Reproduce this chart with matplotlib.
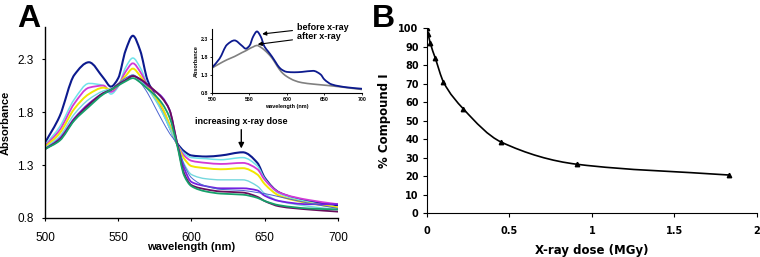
import numpy as np
import matplotlib
matplotlib.use("Agg")
import matplotlib.pyplot as plt
from matplotlib.path import Path
from matplotlib.patches import PathPatch

plt.rcParams['font.family'] = ['Liberation Sans', 'DejaVu Sans']

# -------------------------------------------
# Data
# -------------------------------------------
wl = [500, 510, 520, 530, 540, 545, 550, 555, 560, 565, 570, 575, 580,
      585, 590, 595, 600, 610, 620, 635, 645, 650, 660, 680, 700]

spectra = [
    [1.51, 1.76, 2.15, 2.27, 2.12, 2.04, 2.12, 2.38, 2.52, 2.38, 2.10, 1.96, 1.82,
     1.66, 1.51, 1.43, 1.39, 1.38, 1.39, 1.42, 1.32, 1.18, 1.04, 0.96, 0.92],
    [1.49, 1.66, 1.92, 2.07, 2.05, 1.97, 2.04, 2.22, 2.31, 2.22, 2.06, 1.94, 1.80,
     1.65, 1.50, 1.41, 1.37, 1.36, 1.35, 1.37, 1.29, 1.17, 1.03, 0.95, 0.90],
    [1.48, 1.63, 1.88, 2.03, 2.05, 1.99, 2.05, 2.18, 2.26, 2.18, 2.05, 1.96, 1.84,
     1.68, 1.50, 1.39, 1.34, 1.32, 1.31, 1.32, 1.26, 1.16, 1.04, 0.97, 0.93],
    [1.47, 1.60, 1.83, 1.97, 2.03, 2.01, 2.06, 2.14, 2.21, 2.14, 2.04, 1.95, 1.84,
     1.68, 1.50, 1.36, 1.29, 1.27, 1.26, 1.27, 1.21, 1.12, 1.01, 0.94, 0.90],
    [1.46, 1.57, 1.78, 1.92, 2.00, 2.02, 2.06, 2.11, 2.15, 2.10, 2.02, 1.92, 1.80,
     1.66, 1.50, 1.31, 1.21, 1.17, 1.16, 1.16, 1.10, 1.03, 0.96, 0.91, 0.88],
    [1.45, 1.55, 1.74, 1.88, 1.98, 2.01, 2.06, 2.10, 2.14, 2.11, 2.05, 2.00, 1.94,
     1.82, 1.52, 1.27, 1.14, 1.10, 1.08, 1.08, 1.06, 1.01, 0.96, 0.93, 0.93],
    [1.45, 1.54, 1.72, 1.86, 1.97, 2.00, 2.07, 2.12, 2.15, 2.08, 1.98, 1.85, 1.72,
     1.60, 1.50, 1.30, 1.18, 1.10, 1.07, 1.06, 1.04, 1.03, 1.00, 0.94, 0.89],
    [1.45, 1.54, 1.73, 1.87, 1.98, 2.01, 2.06, 2.10, 2.14, 2.11, 2.06, 2.00, 1.93,
     1.82, 1.52, 1.22, 1.11, 1.07, 1.05, 1.04, 1.00, 0.96, 0.91, 0.88, 0.86],
    [1.45, 1.53, 1.72, 1.85, 1.97, 2.01, 2.05, 2.09, 2.12, 2.08, 2.02, 1.96, 1.88,
     1.75, 1.50, 1.20, 1.10, 1.05, 1.03, 1.02, 0.99, 0.96, 0.92, 0.89, 0.88],
]
spec_colors = ['#0c1a8e', '#6fe3ea', '#d23ad6', '#f2e600', '#74d8de',
               '#7420e0', '#4a63d0', '#6a0c5c', '#16a06a']
spec_widths = [1.5, 1.1, 1.3, 1.4, 1.0, 1.3, 0.7, 1.3, 1.3]

after_xray = [1.50, 1.62, 1.73, 1.82, 1.93, 1.98, 2.04, 2.09, 2.13, 2.08, 2.00, 1.90, 1.78,
              1.62, 1.46, 1.34, 1.26, 1.15, 1.09, 1.05, 1.03, 1.02, 1.00, 0.95, 0.90]

dose = [0, 0.007, 0.02, 0.05, 0.1, 0.22, 0.45, 0.91, 1.83]
compound_I = [100, 97, 92, 84, 71, 56.5, 38.5, 26.5, 20.7]


def smooth_path(x, y):
    # monotone cubic (Fritsch-Carlson) through the points, as Bezier segments
    x = np.asarray(x, float)
    y = np.asarray(y, float)
    h = np.diff(x)
    d = np.diff(y) / h
    m = np.zeros_like(y)
    m[0], m[-1] = d[0], d[-1]
    for i in range(1, len(y) - 1):
        if d[i - 1] * d[i] > 0:
            w1 = 2 * h[i] + h[i - 1]
            w2 = h[i] + 2 * h[i - 1]
            m[i] = (w1 + w2) / (w1 / d[i - 1] + w2 / d[i])
    verts = [(x[0], y[0])]
    codes = [Path.MOVETO]
    for i in range(len(x) - 1):
        verts += [(x[i] + h[i] / 3, y[i] + m[i] * h[i] / 3),
                  (x[i + 1] - h[i] / 3, y[i + 1] - m[i + 1] * h[i] / 3),
                  (x[i + 1], y[i + 1])]
        codes += [Path.CURVE4] * 3
    return Path(verts, codes)


def draw_smooth(ax, x, y, **kw):
    ax.add_patch(PathPatch(smooth_path(x, y), fill=False, capstyle='round', **kw))


fig = plt.figure(figsize=(7.6, 2.57), dpi=100)

# -------------------------------------------
# Panel A
# -------------------------------------------
axA = fig.add_axes([0.0592, 0.1518, 0.3855, 0.742])
for vals, c, lw in zip(spectra, spec_colors, spec_widths):
    draw_smooth(axA, wl, vals, edgecolor=c, lw=lw)
axA.set_xlim(500, 700)
axA.set_ylim(0.8, 2.6)
axA.set_xticks([500, 550, 600, 650, 700])
axA.set_yticks([0.8, 1.3, 1.8, 2.3])
axA.set_yticklabels(['0.8', '1.3', '1.8', '2.3'])
axA.tick_params(labelsize=8.5, length=2, width=0.8)
axA.tick_params(axis='x', pad=8)
axA.tick_params(axis='y', pad=6)
for s in ['top', 'right']:
    axA.spines[s].set_visible(False)
for s in ['left', 'bottom']:
    axA.spines[s].set_linewidth(1.0)
axA.set_xlabel('wavelength (nm)', fontsize=8, fontweight='bold', labelpad=-1)
axA.set_ylabel('Absorbance', fontsize=8, fontweight='bold', labelpad=5)
axA.annotate('', xy=(634, 1.43), xytext=(634, 1.66),
             arrowprops=dict(arrowstyle='-|>', color='black', lw=1.0,
                             mutation_scale=8))
axA.text(634, 1.67, 'increasing x-ray dose', ha='center', va='bottom',
         fontsize=6.5, fontweight='bold')

fig.text(0.022, 0.985, 'A', fontsize=23, fontweight='bold', va='top')

# inset
axI = fig.add_axes([0.279, 0.638, 0.197, 0.2507])
draw_smooth(axI, wl, after_xray, edgecolor='#808080', lw=1.2)
draw_smooth(axI, wl, spectra[0], edgecolor='#0c1a8e', lw=1.3)
axI.set_xlim(500, 700)
axI.set_ylim(0.8, 2.6)
axI.set_xticks([500, 550, 600, 650, 700])
axI.set_yticks([0.8, 1.3, 1.8, 2.3])
axI.set_yticklabels(['0.8', '1.3', '1.8', '2.3'])
axI.tick_params(labelsize=3.8, length=1.5, width=0.6, pad=1.5)
for lab in axI.get_xticklabels() + axI.get_yticklabels():
    lab.set_fontweight('bold')
for s in ['top', 'right']:
    axI.spines[s].set_visible(False)
axI.set_xlabel('wavelength (nm)', fontsize=4, fontweight='bold', labelpad=1.5)
axI.set_ylabel('Absorbance', fontsize=4, fontweight='bold', labelpad=1.5)
axI.annotate('before x-ray', xy=(567, 2.45), xytext=(613, 2.64),
             fontsize=6.5, fontweight='bold', va='center', annotation_clip=False,
             arrowprops=dict(arrowstyle='-|>', color='black', lw=0.8,
                             mutation_scale=6, shrinkA=1, shrinkB=0))
axI.annotate('after x-ray', xy=(561, 2.16), xytext=(613, 2.38),
             fontsize=6.5, fontweight='bold', va='center',
             arrowprops=dict(arrowstyle='-|>', color='black', lw=0.8,
                             mutation_scale=6, shrinkA=1, shrinkB=0))

# -------------------------------------------
# Panel B
# -------------------------------------------
axB = fig.add_axes([0.5618, 0.17, 0.434, 0.72])
draw_smooth(axB, dose, compound_I, edgecolor='black', lw=1.2)
axB.plot(dose, compound_I, linestyle='none', marker='^', color='black', ms=3.2)
axB.set_xlim(0, 2)
axB.set_ylim(0, 100)
axB.set_xticks([0, 0.5, 1, 1.5, 2])
axB.set_xticklabels(['0', '0.5', '1', '1.5', '2'])
axB.set_yticks(range(0, 101, 10))
axB.tick_params(labelsize=7, length=3, width=0.8)
axB.tick_params(axis='x', pad=6)
axB.tick_params(axis='y', pad=3)
for lab in axB.get_xticklabels() + axB.get_yticklabels():
    lab.set_fontweight('bold')
    lab.set_family('DejaVu Sans')
for s in ['top', 'right']:
    axB.spines[s].set_visible(False)
axB.set_xlabel('X-ray dose (MGy)', fontsize=8.5, fontweight='bold',
               family='DejaVu Sans', labelpad=6)
axB.set_ylabel('% Compound I', fontsize=8.5, fontweight='bold',
               family='DejaVu Sans', labelpad=5)

fig.text(0.489, 0.985, 'B', fontsize=23, fontweight='bold', va='top')

fig.savefig('out.png', dpi=100)
